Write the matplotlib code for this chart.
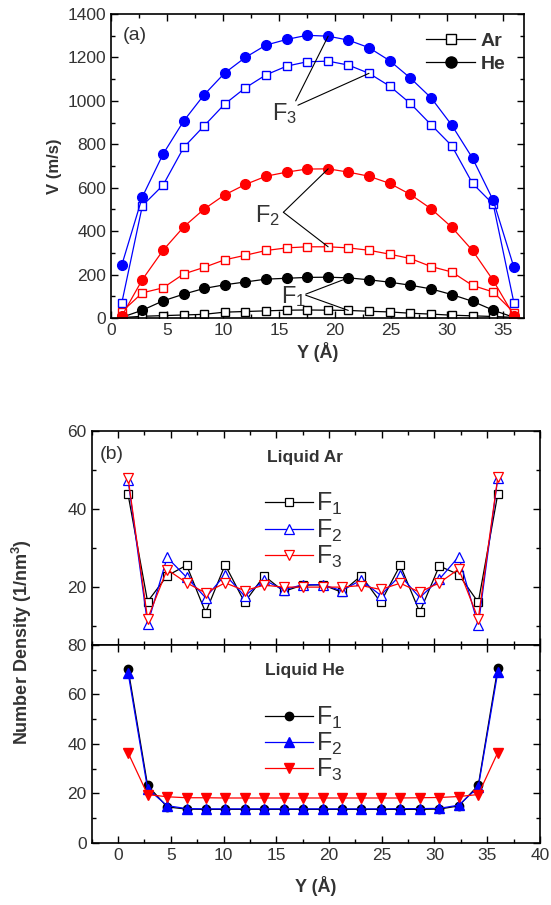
import matplotlib
matplotlib.use("Agg")
import matplotlib.pyplot as plt
from matplotlib.ticker import MultipleLocator

plt.rcParams['font.family'] = ['Liberation Sans', 'DejaVu Sans']
plt.rcParams['mathtext.fontset'] = 'custom'
plt.rcParams['mathtext.rm'] = 'Liberation Sans'

# Channel positions (Angstrom)
y_pos = [0.95, 2.8, 4.65, 6.5, 8.3, 10.15, 12.0, 13.85, 15.7, 17.5,
         19.4, 21.2, 23.05, 24.9, 26.75, 28.6, 30.45, 32.3, 34.15, 36.0]

# Velocity profiles (m/s) for forcing F1, F2, F3
v_ar_f1 = [2, 8, 11, 14, 17, 27, 30, 33, 36, 37, 36, 35, 31, 28, 22, 18, 13, 10, 7, 3]
v_he_f1 = [3, 36, 79, 110, 136, 153, 166, 179, 183, 187, 188, 185, 176, 165, 151, 134, 108, 77, 36, 3]
v_ar_f2 = [28, 116, 139, 203, 233, 268, 289, 311, 323, 328, 328, 323, 312, 294, 274, 237, 212, 150, 120, 25]
v_he_f2 = [8, 177, 312, 420, 501, 567, 615, 653, 672, 686, 687, 672, 653, 620, 569, 503, 418, 311, 173, 10]
v_ar_f3 = [67, 517, 612, 786, 884, 985, 1060, 1120, 1160, 1180, 1183, 1165, 1127, 1068, 988, 890, 793, 620, 524, 70]
v_he_f3 = [242, 558, 755, 908, 1027, 1128, 1200, 1257, 1283, 1302, 1298, 1280, 1245, 1185, 1105, 1014, 888, 736, 542, 233]

# Number density (1/nm^3), liquid argon
n_ar_f1 = [43.7, 16.3, 22.9, 25.6, 13.5, 25.7, 16.1, 22.9, 18.9, 20.5,
           20.6, 18.7, 22.9, 16.1, 25.6, 13.6, 25.4, 23.2, 16.1, 43.8]
n_ar_f2 = [47.4, 10.5, 27.6, 22.5, 17.3, 23.2, 17.7, 21.8, 19.3, 20.6,
           20.6, 19.1, 21.8, 17.9, 23.0, 17.3, 22.0, 27.8, 10.2, 47.9]
n_ar_f3 = [47.9, 11.9, 24.5, 21.1, 18.5, 21.1, 19.1, 20.5, 20.0, 20.0,
           20.0, 20.0, 20.4, 19.4, 21.0, 18.7, 21.1, 24.6, 11.9, 48.1]

# Number density (1/nm^3), liquid helium
n_he_f1 = [70.4, 23.2, 14.5, 13.6, 13.5, 13.5, 13.5, 13.5, 13.5, 13.5,
           13.5, 13.5, 13.5, 13.5, 13.5, 13.5, 13.6, 14.9, 23.2, 70.7]
n_he_f2 = [68.8, 21.8, 15.0, 13.8, 13.7, 13.7, 13.7, 13.7, 13.7, 13.7,
           13.7, 13.7, 13.7, 13.7, 13.8, 13.8, 13.9, 15.2, 22.5, 69.0]
n_he_f3 = [36.4, 19.5, 18.6, 18.2, 18.2, 18.1, 18.1, 18.1, 18.1, 18.1,
           18.1, 18.1, 18.1, 18.1, 18.1, 18.2, 18.3, 18.7, 19.5, 36.5]

TXT = '#333333'
LW = 0.9

fig = plt.figure(figsize=(5.51, 9.05), dpi=100)
ax_a = fig.add_axes([0.2015, 0.6486, 0.7495, 0.3359])
ax_b1 = fig.add_axes([0.1664, 0.2873, 0.8136, 0.2368])
ax_b2 = fig.add_axes([0.1664, 0.0688, 0.8136, 0.2185], sharex=ax_b1)


def style_axes(ax):
    ax.tick_params(which='both', direction='in', top=True, right=True,
                   labelsize=12.5, labelcolor=TXT, width=1.0)
    ax.tick_params(which='major', length=5)
    ax.tick_params(which='minor', length=3)
    for s in ax.spines.values():
        s.set_linewidth(1.2)


# ---- (a) velocity profiles ----
for vals, col in [(v_ar_f1, 'black'), (v_ar_f2, 'red'), (v_ar_f3, 'blue')]:
    ax_a.plot(y_pos, vals, '-s', color=col, mfc='white', mec=col, ms=5.2, mew=1.0, lw=LW)
for vals, col in [(v_he_f1, 'black'), (v_he_f2, 'red'), (v_he_f3, 'blue')]:
    ax_a.plot(y_pos, vals, '-o', color=col, mec=col, ms=7, lw=LW)

ax_a.plot([], [], '-s', color='black', mfc='white', ms=7, mew=1.0, lw=LW, label='Ar')
ax_a.plot([], [], '-o', color='black', ms=8, lw=LW, label='He')
leg = ax_a.legend(loc='upper right', frameon=False, handlelength=2.5,
                  handletextpad=0.3, labelspacing=0.25, borderaxespad=0.55,
                  prop={'weight': 'bold', 'size': 14})
for t in leg.get_texts():
    t.set_color(TXT)

ax_a.set_xlim(0, 36.9)
ax_a.set_ylim(0, 1400)
ax_a.xaxis.set_major_locator(MultipleLocator(5))
ax_a.xaxis.set_minor_locator(MultipleLocator(2.5))
ax_a.yaxis.set_major_locator(MultipleLocator(200))
ax_a.yaxis.set_minor_locator(MultipleLocator(100))
style_axes(ax_a)
ax_a.set_xlabel('Y (Å)', fontsize=13, fontweight='bold', color=TXT, labelpad=3)
ax_a.set_ylabel('V (m/s)', fontsize=12, fontweight='bold', color=TXT, labelpad=4)
ax_a.text(0.029, 0.93, '(a)', transform=ax_a.transAxes, fontsize=14, color=TXT,
          ha='left', va='center')

# Forcing labels with leader lines
def leader(anchor, idx, series):
    ax_a.annotate('', xy=(y_pos[idx], series[idx]), xytext=anchor,
                  arrowprops=dict(arrowstyle='-', lw=0.8, color='black',
                                  shrinkA=0, shrinkB=0))

ax_a.text(15.5, 940, r'$\mathregular{F_3}$', fontsize=17, color=TXT, ha='center', va='center')
leader((16.5, 1000), 10, v_he_f3)
leader((16.7, 980), 12, v_ar_f3)
ax_a.text(14.0, 470, r'$\mathregular{F_2}$', fontsize=17, color=TXT, ha='center', va='center')
leader((15.4, 487), 10, v_he_f2)
leader((15.4, 487), 10, v_ar_f2)
ax_a.text(16.3, 100, r'$\mathregular{F_1}$', fontsize=17, color=TXT, ha='center', va='center')
leader((17.4, 110), 11, v_he_f1)
leader((17.4, 105), 11, v_ar_f1)

# ---- (b) number density, liquid Ar ----
ax_b1.plot(y_pos, n_ar_f1, '-s', color='black', mfc='white', ms=6, mew=0.9, lw=LW,
           label=r'$\mathregular{F_1}$')
ax_b1.plot(y_pos, n_ar_f2, '-^', color='blue', mfc='white', ms=7.5, mew=0.9, lw=LW,
           label=r'$\mathregular{F_2}$')
ax_b1.plot(y_pos, n_ar_f3, '-v', color='red', mfc='white', ms=7.5, mew=0.9, lw=LW,
           label=r'$\mathregular{F_3}$')
ax_b1.set_ylim(5.2, 60)
ax_b1.yaxis.set_major_locator(MultipleLocator(20))
ax_b1.yaxis.set_minor_locator(MultipleLocator(10))
ax_b1.text(0.476, 0.873, 'Liquid Ar', transform=ax_b1.transAxes, fontsize=12.5,
           fontweight='bold', color=TXT, ha='center', va='center')
ax_b1.text(0.0185, 0.887, '(b)', transform=ax_b1.transAxes, fontsize=14, color=TXT,
           ha='left', va='center')

# ---- (b) number density, liquid He ----
ax_b2.plot(y_pos, n_he_f1, '-o', color='black', ms=6, lw=LW, label=r'$\mathregular{F_1}$')
ax_b2.plot(y_pos, n_he_f2, '-^', color='blue', ms=7, lw=LW, label=r'$\mathregular{F_2}$')
ax_b2.plot(y_pos, n_he_f3, '-v', color='red', ms=7, lw=LW, label=r'$\mathregular{F_3}$')
ax_b2.set_ylim(0, 80)
ax_b2.yaxis.set_major_locator(MultipleLocator(20))
ax_b2.yaxis.set_minor_locator(MultipleLocator(10))
ax_b2.text(0.476, 0.87, 'Liquid He', transform=ax_b2.transAxes, fontsize=12.5,
           fontweight='bold', color=TXT, ha='center', va='center')

for ax, anchor in [(ax_b1, (0.387, 0.718)), (ax_b2, (0.387, 0.698))]:
    lg = ax.legend(loc='upper left', bbox_to_anchor=anchor, frameon=False,
                   handlelength=1.9, handletextpad=0.12, labelspacing=0.0,
                   borderaxespad=0, borderpad=0, prop={'size': 18})
    for t in lg.get_texts():
        t.set_color(TXT)

ax_b1.set_xlim(-2.5, 40)
ax_b1.xaxis.set_major_locator(MultipleLocator(5))
ax_b1.xaxis.set_minor_locator(MultipleLocator(2.5))
style_axes(ax_b1)
style_axes(ax_b2)
ax_b1.tick_params(labelbottom=False)
ax_b2.set_xlabel('Y (Å)', fontsize=13, fontweight='bold', color=TXT, labelpad=10)
fig.text(0.04, 0.29, 'Number Density (1/nm$^\\mathregular{3}$)', rotation=90,
         fontsize=13, fontweight='bold', color=TXT, ha='center', va='center')

fig.savefig('out.png', dpi=100)
